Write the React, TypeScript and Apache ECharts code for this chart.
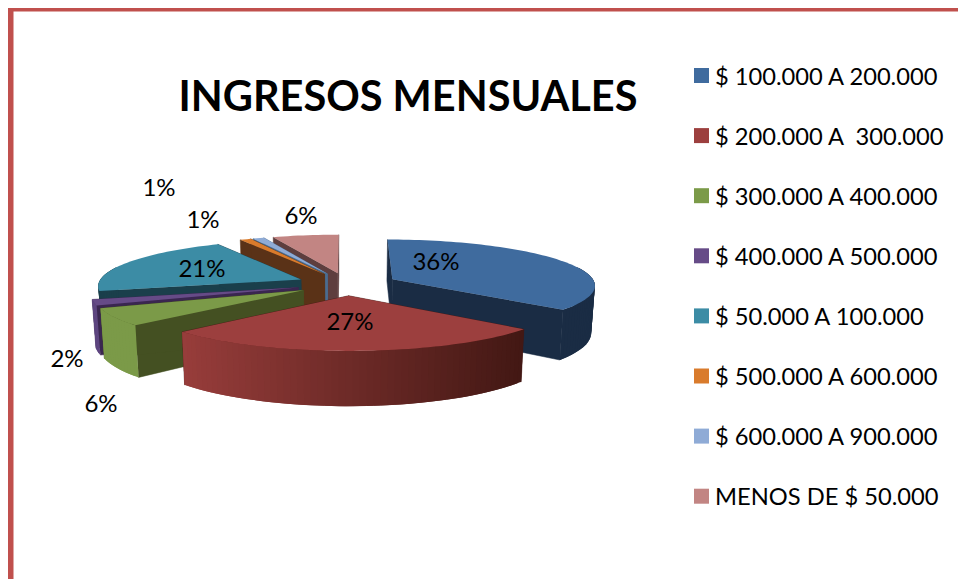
import React, { useEffect, useRef } from "react";
import * as echarts from "echarts";

const categories = [
  "$ 100.000 A 200.000",
  "$ 200.000 A  300.000",
  "$ 300.000 A 400.000",
  "$ 400.000 A 500.000",
  "$ 50.000 A 100.000",
  "$ 500.000 A 600.000",
  "$ 600.000 A 900.000",
  "MENOS DE $ 50.000",
];
const percents = [36, 27, 6, 2, 21, 1, 1, 6];
const topColors = ["#3f6b9e", "#9c3f3e", "#7b9a48", "#664b87", "#3c8ca5", "#d97b2c", "#8fabd6", "#c28583"];
const cutColors = ["#1a2c44", "#431814", "#445022", "#3a2650", "#1a3f4b", "#5a3217", "#4a6c90", "#5e3e3e"];
const wallColors = [
  ["#1a2c44", "#1a2c44"],
  ["#431814", "#983d3b"],
  ["#7b9a48", "#7b9a48"],
  ["#5e4680", "#5e4680"],
  ["#1a3f4b", "#1a3f4b"],
  ["#5a3217", "#5a3217"],
  ["#4a6c90", "#4a6c90"],
  ["#5e3e3e", "#5e3e3e"],
];
// painter's order: back slices first
const paintOrder = [7, 6, 5, 4, 3, 2, 0, 1];
// label anchors beside each slice
const labelAnchors = [
  [436, 260], [350, 320], [101, 402], [67, 357], [202, 267], [159, 186], [203, 218], [301, 214],
];

const CX = 347, CY = 284, R = 203, RY = 45.5, K = 0.12, DEPTH = 47, EXPLODE = 0.25, BASE_SHRINK = 0.985;

function project(X: number, V: number, bottom: boolean) {
  const s = 1 / (1 - K * V);
  const sx = bottom ? s * BASE_SHRINK : s;
  return [CX + R * X * sx, CY + (RY * V + (bottom ? DEPTH : 0)) * s];
}

function makeRender(index: number) {
  return (_params: any, api: any) => {
    const total = percents.reduce((a, b) => a + b, 0);
    const before = percents.slice(0, index).reduce((a, b) => a + b, 0);
    const value = api.value(0);
    const a0 = (before / total) * Math.PI * 2;
    const a1 = ((before + value) / total) * Math.PI * 2;
    const mid = (a0 + a1) / 2;
    const ox = EXPLODE * Math.sin(mid);
    const ov = -EXPLODE * Math.cos(mid);
    const rim = (a: number, b: boolean) => project(ox + Math.sin(a), ov - Math.cos(a), b);
    const center = (b: boolean) => project(ox, ov, b);
    const steps = Math.max(2, Math.ceil((a1 - a0) / 0.03));
    const arc: number[] = [];
    for (let i = 0; i <= steps; i++) arc.push(a0 + ((a1 - a0) * i) / steps);

    const children: any[] = [];
    const cut = (a: number) => ({
      type: "polygon",
      shape: { points: [center(false), rim(a, false), rim(a, true), center(true)] },
      style: { fill: cutColors[index], stroke: cutColors[index], lineWidth: 0.5 },
    });
    children.push(cut(a0), cut(a1));
    const front = arc.filter((a) => Math.cos(a) < 0.3);
    if (front.length > 1) {
      const xs = front.map((a) => rim(a, false)[0]);
      const minX = Math.min(...xs);
      const span = Math.max(...xs) - minX || 1;
      const [c1, c2] = wallColors[index];
      for (let i = 0; i + 1 < front.length; i++) {
        const color = echarts.color.lerp((xs[i] - minX) / span, [c2, c1]);
        const next = front[Math.min(i + 2, front.length - 1)];
        children.push({
          type: "polygon",
          shape: { points: [rim(front[i], false), rim(next, false), rim(next, true), rim(front[i], true)] },
          style: { fill: color },
        });
      }
    }
    children.push({
      type: "polygon",
      shape: { points: [center(false), ...arc.map((a) => rim(a, false))] },
      style: { fill: topColors[index] },
    });
    const [lx, ly] = labelAnchors[index];
    children.push({
      type: "text",
      style: {
        text: Math.round((value / total) * 100) + "%",
        x: lx, y: ly, align: "center", verticalAlign: "middle",
        fill: "#000", font: '24px Lato',
      },
    });
    return { type: "group", children };
  };
}

export default function App() {
  const ref = useRef<HTMLDivElement>(null);
  useEffect(() => {
    document.body.style.margin = "0";
    const chart = echarts.init(ref.current!, null, { renderer: "svg" });
    chart.setOption({
      animation: false,
      title: {
        text: "INGRESOS MENSUALES",
        left: 403, top: 69, textAlign: "center",
        textStyle: { fontFamily: "Lato", fontWeight: "bold", fontSize: 41.5, color: "#000" },
      },
      legend: {
        orient: "vertical",
        left: 689, top: 56,
        itemWidth: 15, itemHeight: 15, itemGap: 31.1,
        icon: "rect",
        selectedMode: false,
        data: categories,
        textStyle: { fontFamily: "Lato", fontSize: 23.7, color: "#000", padding: [0, 0, 0, 1], height: 29, lineHeight: 29 },
      },
      graphic: [
        { type: "rect", shape: { x: 8, y: 8, width: 950, height: 3.5 }, style: { fill: "#c0504d" } },
        { type: "rect", shape: { x: 8, y: 8, width: 5.5, height: 571 }, style: { fill: "#c0504d" } },
      ],
      series: paintOrder.map((i, order) => ({
        type: "custom",
        name: categories[i],
        coordinateSystem: "none",
        silent: true,
        z: 2 + order,
        itemStyle: { color: topColors[i] },
        data: [[percents[i]]],
        renderItem: makeRender(i),
      })),
    });
    return () => chart.dispose();
  }, []);
  return <div ref={ref} style={{ position: "absolute", left: 0, top: 0, width: 958, height: 579 }} />;
}
